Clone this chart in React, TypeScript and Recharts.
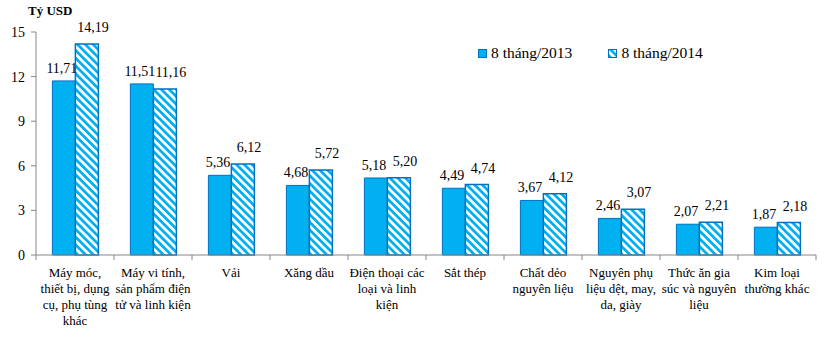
import { BarChart, Bar, XAxis, YAxis, LabelList } from "recharts";

const categories: string[][] = [
  ["Máy móc,", "thiết bị, dụng", "cụ, phụ tùng", "khác"],
  ["Máy vi tính,", "sản phẩm điện", "tử và linh kiện"],
  ["Vải"],
  ["Xăng dầu"],
  ["Điện thoại các", "loại và linh", "kiện"],
  ["Sắt thép"],
  ["Chất dẻo", "nguyên liệu"],
  ["Nguyên phụ", "liệu dệt, may,", "da, giày"],
  ["Thức ăn gia", "súc và nguyên", "liệu"],
  ["Kim loại", "thường khác"],
];
const values2013 = [11.71, 11.51, 5.36, 4.68, 5.18, 4.49, 3.67, 2.46, 2.07, 1.87];
const values2014 = [14.19, 11.16, 6.12, 5.72, 5.2, 4.74, 4.12, 3.07, 2.21, 2.18];
const yTicks = [0, 3, 6, 9, 12, 15];
const seriesNames = ["8 tháng/2013", "8 tháng/2014"];

const data = categories.map((lines, i) => ({
  name: lines.join(" "),
  y2013: values2013[i],
  y2014: values2014[i],
}));

const FONT = "Liberation Serif, serif";
const BLUE = "#00b0f0";
const EDGE = "#0070c0";
const AXIS = "#868686";
const W = 830;
const H = 338;
const YW = 36;
const XH = 30;
const MARGIN = { top: 32, right: 14, left: 0, bottom: 53 };
const AXIS_Y = H - MARGIN.bottom - XH;
const BAND = (W - YW - MARGIN.right) / categories.length;

const fmt = (v: number) => v.toFixed(2).replace(".", ",");

function CategoryTick(props: any) {
  const { x, payload, index } = props;
  const i = payload?.index ?? index;
  const lines = categories[i] || [];
  return (
    <g>
      <line x1={x - BAND / 2} x2={x - BAND / 2} y1={AXIS_Y} y2={AXIS_Y + 5} stroke={AXIS} />
      {i === categories.length - 1 && (
        <line x1={x + BAND / 2} x2={x + BAND / 2} y1={AXIS_Y} y2={AXIS_Y + 5} stroke={AXIS} />
      )}
      <text
        x={x}
        y={AXIS_Y + 22}
        textAnchor="middle"
        fill="#000"
        style={{ fontFamily: FONT, fontSize: 13 }}
      >
        {lines.map((l, k) => (
          <tspan key={k} x={x} dy={k === 0 ? 0 : 16}>
            {l}
          </tspan>
        ))}
      </text>
    </g>
  );
}

function makeLabel(dx: number, lift: number) {
  return (props: any) => {
    const { x, y, width, value } = props;
    return (
      <text
        x={x + width / 2 + dx}
        y={y - lift}
        textAnchor="middle"
        fill="#000"
        style={{ fontFamily: FONT, fontSize: 14 }}
      >
        {fmt(value)}
      </text>
    );
  };
}

export default function App() {
  return (
    <div style={{ position: "absolute", left: 0, top: 0, width: W, height: H, background: "#fff", fontFamily: FONT }}>
      <svg width={0} height={0} style={{ position: "absolute" }}>
        <defs>
          <pattern id="hatch" patternUnits="userSpaceOnUse" width={5.5} height={5.5} patternTransform="rotate(-45)">
            <rect width={5.5} height={5.5} fill="#fff" />
            <rect width={2.75} height={5.5} fill={BLUE} />
          </pattern>
        </defs>
      </svg>
      <div
        style={{
          position: "absolute",
          left: 28,
          top: 3,
          fontFamily: FONT,
          fontSize: 13,
          fontWeight: "bold",
          zIndex: 2,
        }}
      >
        Tỷ USD
      </div>
      <div
        style={{
          position: "absolute",
          left: 478,
          top: 44,
          display: "flex",
          fontFamily: FONT,
          fontSize: 15.5,
          lineHeight: "18px",
          color: "#000",
          zIndex: 2,
        }}
      >
        {seriesNames.map((n, k) => (
          <div key={n} style={{ display: "flex", alignItems: "center", marginRight: k === 0 ? 36 : 0 }}>
            <svg width={9} height={9} style={{ marginRight: 4 }}>
              <rect x={0.5} y={0.5} width={8} height={8} fill={k === 0 ? BLUE : "url(#hatch)"} stroke={EDGE} />
            </svg>
            <span>{n}</span>
          </div>
        ))}
      </div>
      <BarChart width={W} height={H} data={data} margin={MARGIN} barCategoryGap="21%" barGap={0}>
        <XAxis
          dataKey="name"
          interval={0}
          height={XH}
          tickLine={false}
          axisLine={{ stroke: AXIS }}
          tick={<CategoryTick />}
        />
        <YAxis
          domain={[0, 15]}
          ticks={yTicks}
          interval={0}
          width={YW}
          tickSize={5}
          tickMargin={6}
          axisLine={{ stroke: AXIS }}
          tickLine={{ stroke: AXIS }}
          tick={{ fill: "#000", fontSize: 14, fontFamily: FONT }}
        />
        <Bar dataKey="y2013" fill={BLUE} stroke={EDGE} strokeWidth={1} isAnimationActive={false}>
          <LabelList dataKey="y2013" content={makeLabel(-2, 8)} />
        </Bar>
        <Bar dataKey="y2014" fill="url(#hatch)" stroke={EDGE} strokeWidth={1.5} isAnimationActive={false}>
          <LabelList dataKey="y2014" content={makeLabel(6, 12)} />
        </Bar>
      </BarChart>
    </div>
  );
}
